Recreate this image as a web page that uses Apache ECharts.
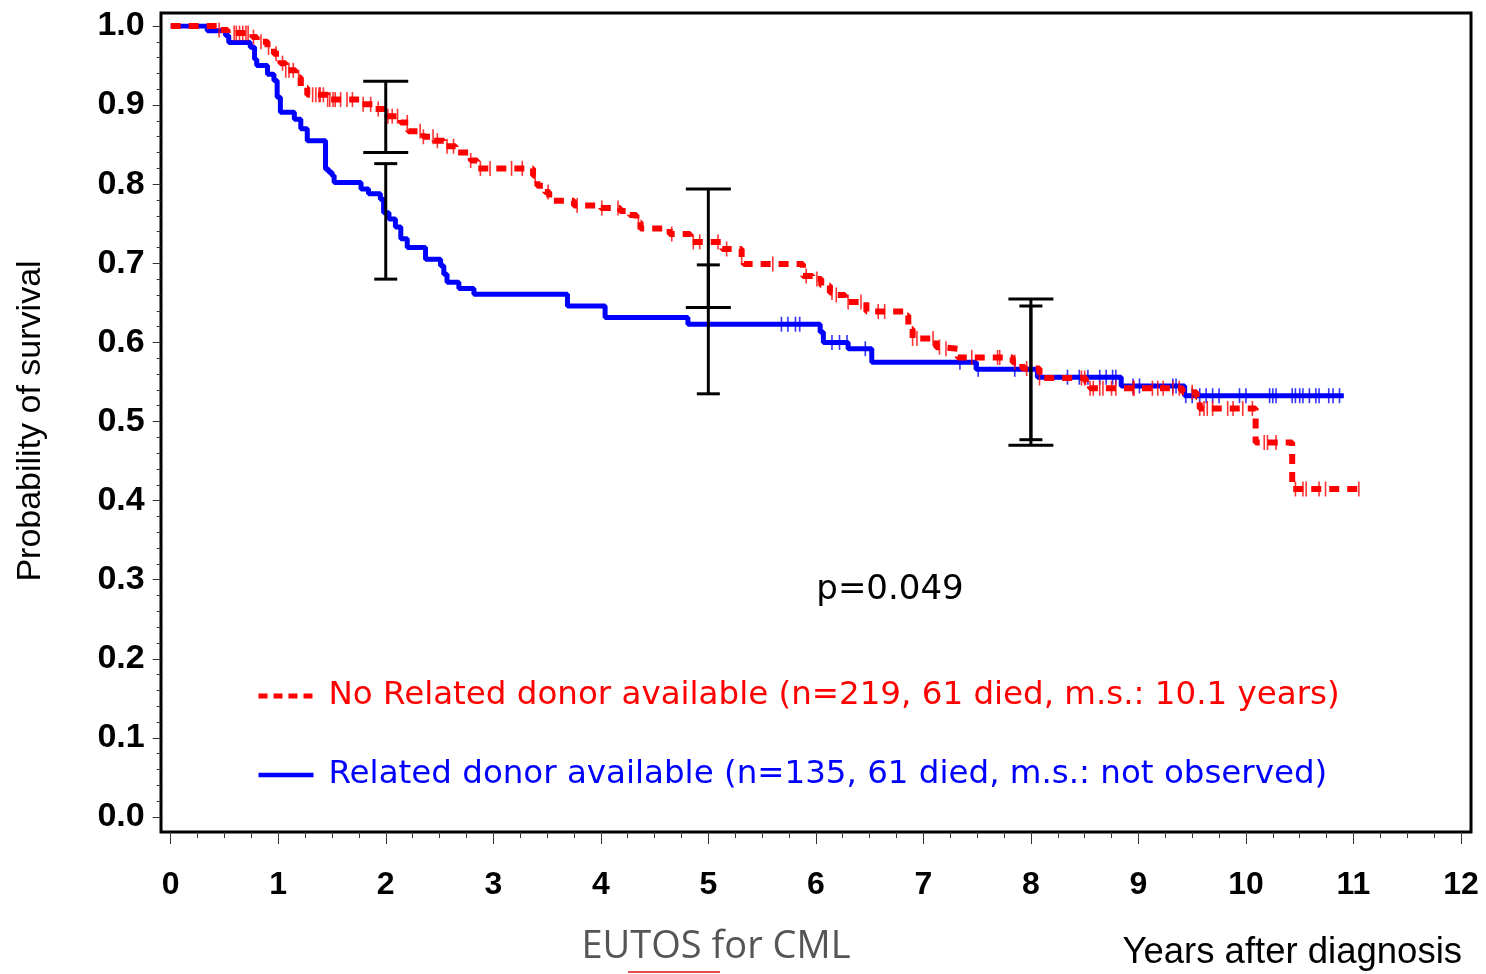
<!DOCTYPE html>
<html><head><meta charset="utf-8">
<script src="https://cdn.jsdelivr.net/npm/echarts@6/dist/echarts.min.js"></script>
<style>html,body{margin:0;padding:0;background:#fff}#c{width:1486px;height:974px}</style>
</head><body><div id="c"></div>
<script>
// ---- Data ----
const noDonorTimes = [0,0.45,0.53,0.76,0.80,0.90,0.96,1.02,1.07,1.16,1.21,1.27,1.46,1.77,1.89,2.01,2.14,2.21,2.35,2.45,2.54,2.65,2.79,2.85,3.37,3.41,3.48,3.52,3.75,4.00,4.18,4.27,4.33,4.37,4.64,4.83,5.13,5.31,5.33,5.88,5.97,6.05,6.13,6.18,6.27,6.47,6.84,6.86,6.90,7.12,7.18,7.32,7.83,7.92,8.08,8.51,8.55,9.41,9.54,9.57,10.09,10.43,11.07];
const noDonorSurv = [1.0,0.995,0.991,0.986,0.980,0.973,0.965,0.953,0.944,0.935,0.922,0.913,0.907,0.901,0.895,0.886,0.878,0.867,0.860,0.855,0.848,0.840,0.830,0.820,0.811,0.798,0.790,0.779,0.773,0.770,0.766,0.761,0.752,0.744,0.737,0.727,0.718,0.707,0.699,0.684,0.680,0.672,0.663,0.660,0.651,0.639,0.634,0.617,0.605,0.594,0.592,0.581,0.575,0.567,0.555,0.550,0.542,0.537,0.531,0.5165,0.4735,0.4147,0.4147];
const noDonorCensor = [0.45,0.59,0.61,0.64,0.67,0.70,0.72,0.77,0.84,0.91,0.98,1.04,1.07,1.10,1.14,1.19,1.32,1.35,1.38,1.39,1.42,1.46,1.48,1.51,1.53,1.58,1.64,1.69,1.79,1.86,1.93,2.02,2.06,2.11,2.20,2.32,2.35,2.44,2.48,2.57,2.63,2.79,2.88,2.97,3.17,3.27,3.39,3.51,3.78,4.01,4.16,4.35,4.66,4.86,4.92,5.09,5.17,5.31,5.60,5.91,6.01,6.15,6.19,6.30,6.42,6.58,6.64,6.90,6.94,7.09,7.15,7.21,7.45,7.69,7.71,7.85,7.96,8.08,8.47,8.50,8.55,8.58,8.64,8.67,8.75,8.79,8.95,8.96,9.13,9.18,9.23,9.32,9.38,9.50,9.57,9.61,9.64,9.69,9.83,9.88,9.97,10.06,10.17,10.20,10.28,10.46,10.53,10.56,10.68,10.74,11.05];

const donorTimes = [0,0.34,0.51,0.54,0.74,0.78,0.80,0.90,0.96,0.99,1.02,1.15,1.21,1.27,1.44,1.47,1.50,1.52,1.77,1.84,1.95,1.98,2.03,2.09,2.14,2.20,2.37,2.51,2.54,2.57,2.68,2.82,3.69,4.04,4.81,6.04,6.07,6.30,6.52,7.49,8.06,8.84,9.43,10.91];
const donorSurv = [1.0,0.994,0.988,0.979,0.973,0.958,0.950,0.939,0.931,0.910,0.891,0.882,0.870,0.855,0.819,0.815,0.811,0.802,0.794,0.788,0.781,0.764,0.756,0.746,0.731,0.720,0.705,0.697,0.686,0.676,0.668,0.661,0.646,0.6315,0.623,0.613,0.600,0.592,0.575,0.566,0.556,0.545,0.5326,0.5326];
const donorCensor = [5.68,5.74,5.81,5.85,6.15,6.22,6.29,6.46,7.34,7.51,7.85,8.34,8.45,8.53,8.64,8.70,8.76,8.79,8.95,9.01,9.32,9.35,9.44,9.50,9.57,9.63,9.69,9.75,9.94,10.00,10.22,10.25,10.28,10.43,10.46,10.50,10.53,10.59,10.65,10.68,10.77,10.81,10.87];

const ciTimes = [2, 5, 8];
const noDonorLower = [0.840, 0.644, 0.470];
const noDonorUpper = [0.930, 0.794, 0.655];
const donorLower = [0.680, 0.535, 0.477];
const donorUpper = [0.826, 0.698, 0.646];

const seriesNames = [
  'No Related donor available (n=219, 61 died, m.s.: 10.1 years)',
  'Related donor available (n=135, 61 died, m.s.: not observed)'
];
const yTitle = 'Probability of survival';
const xTitle = 'Years after diagnosis';
const pText = 'p=0.049';
const logoText = 'EUTOS for CML';

// ---- helpers ----
function zip(a, b) { return a.map((v, i) => [v, b[i]]); }
function survAt(times, surv, t) {
  let s = surv[0];
  for (let i = 0; i < times.length; i++) { if (times[i] <= t + 1e-9) s = surv[i]; else break; }
  return s;
}
function censorPts(ct, times, surv) { return ct.map(t => [t, survAt(times, surv, t)]); }
function ciData(lo, hi) { return ciTimes.map((t, i) => [t, lo[i], hi[i]]); }
function ciRender(halfCap) {
  return function (params, api) {
    const x = api.value(0);
    const top = api.coord([x, api.value(2)]);
    const bot = api.coord([x, api.value(1)]);
    const st = { stroke: '#000', lineWidth: 3 };
    return { type: 'group', children: [
      { type: 'line', shape: { x1: top[0], y1: top[1], x2: bot[0], y2: bot[1] }, style: st },
      { type: 'line', shape: { x1: top[0] - halfCap, y1: top[1], x2: top[0] + halfCap, y2: top[1] }, style: st },
      { type: 'line', shape: { x1: bot[0] - halfCap, y1: bot[1], x2: bot[0] + halfCap, y2: bot[1] }, style: st }
    ]};
  };
}

const FONT = 'Liberation Sans, Arial, sans-serif';
const WIDE = 'DejaVu Sans, sans-serif';
const chart = echarts.init(document.getElementById('c'), null, { renderer: 'canvas' });

chart.setOption({
  animation: false,
  backgroundColor: '#fff',
  grid: [
    { left: 170.7, top: 26, width: 1290.3, height: 791 },
    { left: 161, top: 13, width: 1310, height: 819, show: true, borderColor: '#000', borderWidth: 3, backgroundColor: 'transparent', z: 0 }
  ],
  xAxis: [
    { type: 'value', min: 0, max: 12, interval: 1, offset: 15,
      axisLine: { show: false, onZero: false },
      axisTick: { show: true, inside: false, length: 12, lineStyle: { color: '#333', width: 1 } },
      minorTick: { show: true, splitNumber: 4, length: 6, lineStyle: { color: '#333', width: 1 } },
      splitLine: { show: false },
      axisLabel: { fontSize: 32, fontWeight: 'bold', color: '#000', margin: 37, fontFamily: FONT } },
    { type: 'value', gridIndex: 1, show: false, min: 0, max: 1 }
  ],
  yAxis: [
    { type: 'value', min: 0, max: 1, interval: 0.1, offset: 10,
      axisLine: { show: false, onZero: false },
      axisTick: { show: true, inside: false, length: 8, lineStyle: { color: '#333', width: 1 } },
      minorTick: { show: true, splitNumber: 5, length: 4, lineStyle: { color: '#333', width: 1 } },
      splitLine: { show: false },
      axisLabel: { fontSize: 34, fontWeight: 'bold', color: '#000', margin: 16, fontFamily: FONT,
        formatter: v => v.toFixed(1) } },
    { type: 'value', gridIndex: 1, show: false, min: 0, max: 1 }
  ],
  legend: {
    orient: 'vertical', left: 251, top: 671, itemWidth: 55, itemHeight: 20, itemGap: 39,
    selectedMode: false,
    itemStyle: { opacity: 0 },
    textStyle: { fontSize: 32.5, fontFamily: WIDE, lineHeight: 40, padding: [0, 0, 0, 10] },
    data: [
      { name: seriesNames[0], textStyle: { color: '#ff0000' }, lineStyle: { color: '#ff0000', width: 5, type: [9, 6] } },
      { name: seriesNames[1], textStyle: { color: '#0000ff' }, lineStyle: { color: '#0000ff', width: 4.5, type: 'solid' } }
    ]
  },
  series: [
    { name: seriesNames[1], type: 'line', step: 'end', data: zip(donorTimes, donorSurv), symbol: 'none',
      lineStyle: { color: '#0000ff', width: 5 }, itemStyle: { color: '#0000ff' }, z: 2, silent: true },
    { type: 'scatter', data: censorPts(donorCensor, donorTimes, donorSurv), symbol: 'rect', symbolSize: [1.6, 15],
      itemStyle: { color: '#0000ff' }, z: 2, silent: true },
    { name: seriesNames[0], type: 'line', step: 'end', data: zip(noDonorTimes, noDonorSurv), symbol: 'none',
      lineStyle: { color: '#ff0000', width: 6, type: [10, 8] }, itemStyle: { color: '#ff0000' }, z: 3, silent: true },
    { type: 'scatter', data: censorPts(noDonorCensor, noDonorTimes, noDonorSurv), symbol: 'rect', symbolSize: [1.6, 15],
      itemStyle: { color: '#ff0000' }, z: 3, silent: true },
    { type: 'custom', data: ciData(noDonorLower, noDonorUpper), renderItem: ciRender(22.5),
      encode: { x: 0, y: [1, 2] }, z: 5, silent: true },
    { type: 'custom', data: ciData(donorLower, donorUpper), renderItem: ciRender(11.5),
      encode: { x: 0, y: [1, 2] }, z: 5, silent: true }
  ],
  graphic: [
    { type: 'text', x: 31, y: 421, rotation: Math.PI / 2,
      style: { text: yTitle, fontSize: 34, fontFamily: FONT, fill: '#000', align: 'center', verticalAlign: 'middle' } },
    { type: 'text', x: 890, y: 590,
      style: { text: pText, fontSize: 34, fontFamily: WIDE, fill: '#000', align: 'center', verticalAlign: 'middle' } },
    { type: 'text', x: 1462, y: 953,
      style: { text: xTitle, fontSize: 36.5, fontFamily: FONT, fill: '#000', align: 'right', verticalAlign: 'middle' } },
    { type: 'text', x: 716, y: 947,
      style: { text: logoText, fontSize: 38, fontFamily: 'Open Sans, sans-serif', fill: '#555', align: 'center', verticalAlign: 'middle' } },
    { type: 'line', shape: { x1: 628, y1: 972, x2: 720, y2: 972 }, style: { stroke: '#e05050', lineWidth: 2 } }
  ]
});
</script></body></html>
